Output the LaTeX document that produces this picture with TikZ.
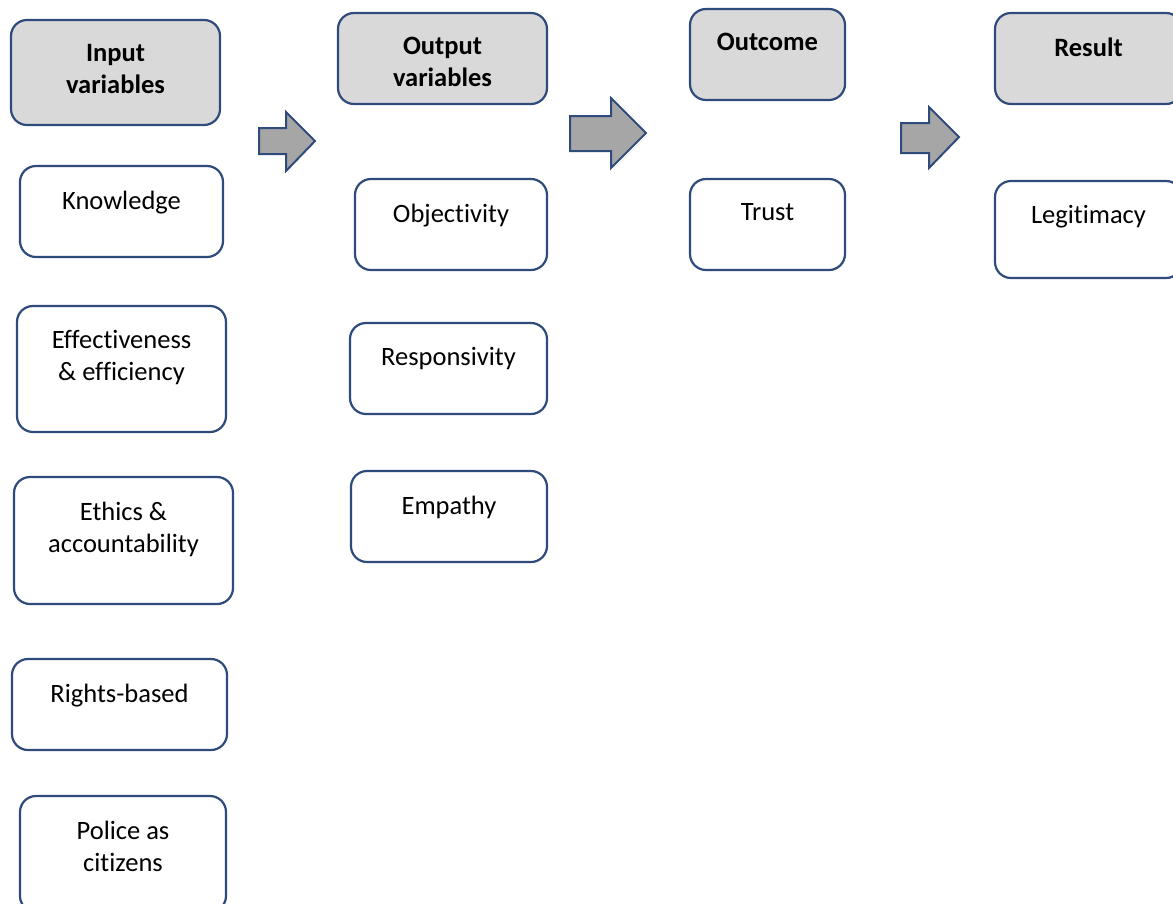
\documentclass[tikz,border=0pt]{standalone}
\usepackage{fontspec}
\setmainfont{Carlito}[Ligatures=NoCommon]
\definecolor{edgeblue}{HTML}{2F4B7C}
\definecolor{headfill}{HTML}{D9D9D9}
\definecolor{arrowfill}{HTML}{A6A6A6}
\tikzset{
  boxbase/.style={draw=edgeblue, line width=2.2pt, rounded corners=16pt, inner sep=0pt},
  headbox/.style={boxbase, fill=headfill},
  itembox/.style={boxbase, fill=white},
  boxtext/.style={font=\fontsize{26.5}{32}\selectfont, align=center, anchor=north, inner sep=0pt},
  headtext/.style={boxtext, font=\fontsize{26.5}{32}\selectfont\bfseries},
  blockarrow/.style={draw=edgeblue, line width=2pt, fill=arrowfill, line join=miter},
}
% #1 name, #2 box style, #3 text style, #4 x1, #5 y1, #6 x2, #7 y2, #8 text
\newcommand\diagbox[8]{%
  \node[#2, minimum width=#6pt-#4pt, minimum height=#7pt-#5pt]
    (#1) at ({(#4+#6)/2},{(#5+#7)/2}) {};
  \node[#3] (#1-t) at ([yshift=-25.5pt]#1.north) {#8};
}
\begin{document}
\begin{tikzpicture}[x=1pt,y=-1pt]
\useasboundingbox (0,0) rectangle (1173,903);
\clip (0,0) rectangle (1173,903);
% column 1
\diagbox{inp}{headbox}{headtext}{11}{20}{220}{125}{Input\\variables}
\diagbox{know}{itembox}{boxtext}{20}{166}{223}{257}{Knowledge}
\diagbox{eff}{itembox}{boxtext}{17}{306}{226}{432}{Effectiveness\\\& efficiency}
\diagbox{eth}{itembox}{boxtext}{14}{477}{233}{604}{Ethics \&\\accountability}
\diagbox{rights}{itembox}{boxtext}{12}{659}{227}{750}{Rights-based}
\diagbox{police}{itembox}{boxtext}{20}{796}{226}{912}{Police as\\citizens}
% column 2
\diagbox{outp}{headbox}{headtext}{338}{13}{547}{104}{Output\\variables}
\diagbox{obj}{itembox}{boxtext}{355}{179}{547}{270}{Objectivity}
\diagbox{resp}{itembox}{boxtext}{350}{323}{547}{414}{Responsivity}
\diagbox{emp}{itembox}{boxtext}{351}{471}{547}{562}{Empathy}
% column 3
\diagbox{outc}{headbox}{headtext}{690}{9}{845}{100}{Outcome}
\diagbox{trust}{itembox}{boxtext}{690}{179}{845}{270}{Trust}
% column 4
\diagbox{res}{headbox}{headtext}{995}{13}{1182}{104}{Result}
\diagbox{legit}{itembox}{boxtext}{995}{181}{1182}{278}{Legitimacy}
% block arrows
\draw[blockarrow] (259,128) -- (286,128) -- (286,112) -- (315,141) -- (286,171) -- (286,154) -- (259,154) -- cycle;
\draw[blockarrow] (570,116) -- (611,116) -- (611,98) -- (646,133) -- (611,168) -- (611,151) -- (570,151) -- cycle;
\draw[blockarrow] (901,123) -- (929,123) -- (929,107) -- (959,137) -- (929,168) -- (929,153) -- (901,153) -- cycle;
\end{tikzpicture}
\end{document}
